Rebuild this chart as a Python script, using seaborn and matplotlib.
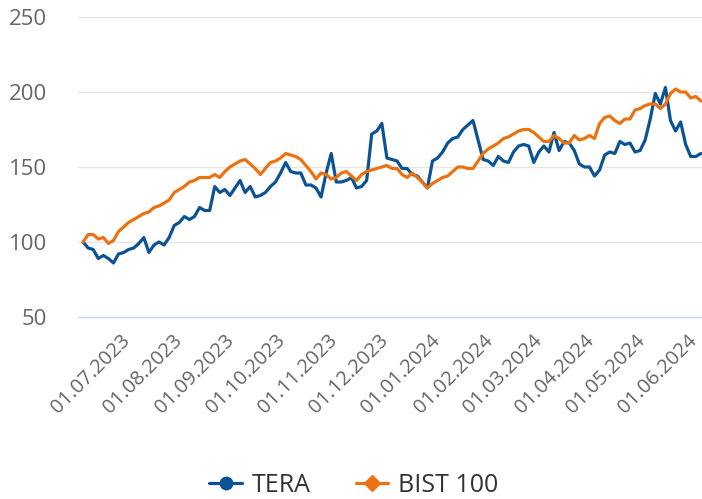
import pandas as pd
import matplotlib
matplotlib.use("Agg")
import matplotlib.pyplot as plt
import matplotlib.dates as mdates
from matplotlib.lines import Line2D
import seaborn as sns

# Values (normalised to 100 at start), every 3 days
dates = pd.date_range(start='2023-06-05', periods=123, freq='3D')

tera = [100, 96, 95, 89, 91, 89, 86, 92, 93, 95,
        96, 99, 103, 93, 98, 100, 98, 103, 111, 113,
        117, 115, 117, 123, 121, 121, 137, 133, 135, 131,
        136, 141, 133, 137, 130, 131, 133, 137, 140, 146,
        153, 147, 146, 146, 138, 138, 136, 130, 146, 159,
        140, 140, 141, 143, 136, 137, 141, 172, 174, 179,
        156, 155, 154, 149, 149, 145, 144, 140, 136, 154,
        156, 160, 166, 169, 170, 175, 178, 181, 168, 155,
        154, 151, 157, 154, 153, 160, 164, 165, 164, 153,
        160, 164, 160, 173, 161, 167, 166, 161, 152, 150,
        150, 144, 148, 158, 160, 159, 167, 165, 166, 160,
        161, 168, 182, 199, 192, 203, 181, 174, 180, 165,
        157, 157, 159]

bist100 = [100, 105, 105, 102, 103, 99, 101, 107, 110, 113,
           115, 117, 119, 120, 123, 124, 126, 128, 133, 135,
           137, 140, 141, 143, 143, 143, 145, 143, 147, 150,
           152, 154, 155, 152, 149, 145, 149, 153, 154, 156,
           159, 158, 157, 155, 151, 147, 142, 146, 145, 142,
           143, 146, 147, 144, 141, 145, 147, 148, 149, 150,
           151, 149, 149, 145, 143, 146, 143, 140, 136, 139,
           141, 143, 144, 147, 150, 150, 149, 149, 154, 159,
           162, 164, 166, 169, 170, 172, 174, 175, 175, 173,
           170, 167, 167, 171, 169, 166, 166, 171, 168, 169,
           171, 169, 179, 183, 184, 181, 179, 182, 182, 188,
           189, 191, 192, 192, 189, 192, 199, 202, 200, 200,
           196, 197, 194]

series_names = ['TERA', 'BIST 100']
colors = {'TERA': '#0b5394', 'BIST 100': '#ec7211'}

df = pd.concat([
    pd.DataFrame({'Date': dates, 'Value': tera, 'Series': 'TERA'}),
    pd.DataFrame({'Date': dates, 'Value': bist100, 'Series': 'BIST 100'}),
])

sns.set_style('white')
plt.rcParams['font.family'] = ['Open Sans', 'DejaVu Sans']

fig = plt.figure(figsize=(7.02, 4.99), dpi=100)
ax = fig.add_axes([78 / 702, 1 - 317 / 499, 1 - 78 / 702, (317 - 17) / 499])

sns.lineplot(data=df, x='Date', y='Value', hue='Series', hue_order=series_names,
             palette=colors, linewidth=2.3, ax=ax, legend=False)

ax.set_ylim(50, 250)
ax.set_yticks([50, 100, 150, 200, 250])
ax.set_xlim(pd.Timestamp('2023-06-02'), pd.Timestamp('2024-06-05 16:00'))
ax.xaxis.set_major_locator(mdates.MonthLocator(bymonthday=1))
ax.xaxis.set_major_formatter(mdates.DateFormatter('%d.%m.%Y'))

ax.grid(axis='y', color='#e6e6e6', linewidth=1)
ax.grid(axis='x', visible=False)
for side in ['top', 'right', 'left']:
    ax.spines[side].set_visible(False)
ax.spines['bottom'].set_color('#ccd6eb')
ax.spines['bottom'].set_linewidth(1)

ax.tick_params(axis='y', length=0, pad=22, labelsize=16, labelcolor='#666666')
ax.tick_params(axis='x', length=13, width=1, color='#ccd6eb', pad=2,
               labelsize=14.5, labelcolor='#666666')
for lbl in ax.get_xticklabels():
    lbl.set_rotation(45)
    lbl.set_ha('right')
    lbl.set_va('center')
    lbl.set_rotation_mode('anchor')

ax.set_xlabel('')
ax.set_ylabel('')

handles = [
    Line2D([], [], color=colors['TERA'], lw=2.3, marker='o', markersize=9),
    Line2D([], [], color=colors['BIST 100'], lw=2.3, marker='D', markersize=8),
]
fig.legend(handles, series_names, loc='center', bbox_to_anchor=(354 / 702, 1 - 485 / 499),
           ncol=2, frameon=False, fontsize=18, labelcolor='#333333',
           handlelength=1.3, handletextpad=0.4, columnspacing=1.8)

fig.savefig('out.png', dpi=100)
